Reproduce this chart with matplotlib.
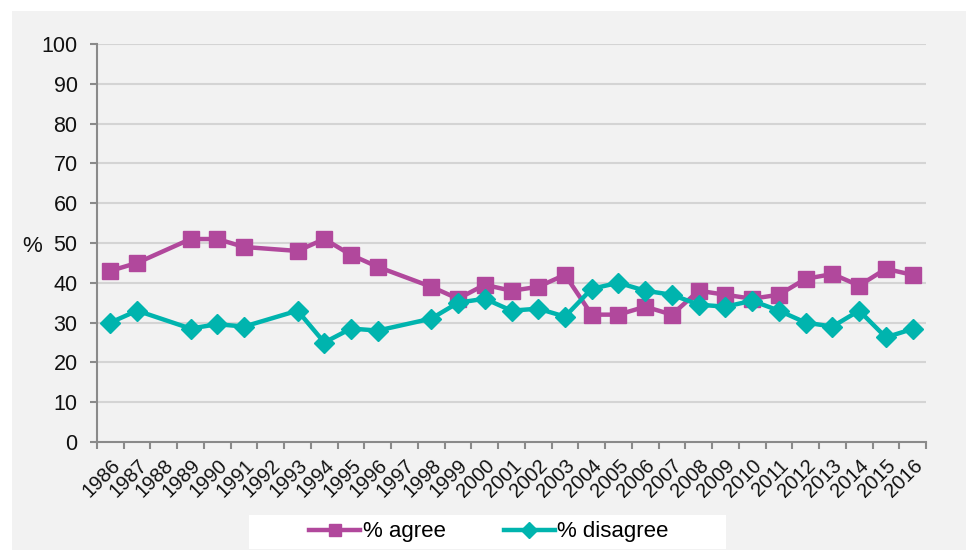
import numpy as np
import matplotlib.pyplot as plt
from matplotlib.patches import Rectangle

plt.rcParams['font.family'] = ['Liberation Sans', 'DejaVu Sans']

years = [str(y) for y in range(1986, 2017)]

# no survey in 1988, 1992, 1997
agree = [43, 45, None, 51, 51, 49, None, 48, 51, 47, 44, None, 39, 36, 39.5,
         38, 39, 42, 32, 32, 34, 32, 38, 37, 36, 37, 41, 42.2, 39.3, 43.5, 42]
disagree = [30, 33, None, 28.5, 29.6, 29, None, 33, 25, 28.5, 28, None, 31, 35, 36,
            33, 33.5, 31.5, 38.5, 40, 38, 37, 34.5, 34, 35.5, 33, 30, 29, 33, 26.3, 28.4]

agree_color = '#b1489c'
disagree_color = '#00b4ae'


def as_series(vals):
    x = np.arange(len(vals))
    v = np.array([np.nan if a is None else a for a in vals], dtype=float)
    keep = ~np.isnan(v)
    return x[keep], v[keep]


fig = plt.figure(figsize=(9.68, 5.51), dpi=100)
W, H = 968, 551

# light grey panel behind everything
fig.patches.append(Rectangle((12 / W, 1 - 550 / H), (966 - 12) / W, (550 - 11) / H,
                             transform=fig.transFigure, facecolor='#f2f2f2',
                             edgecolor='none', zorder=-10))

ax = fig.add_axes([97 / W, 1 - 442 / H, (926 - 97) / W, (442 - 44) / H])
ax.set_facecolor('none')

xa, va = as_series(agree)
xd, vd = as_series(disagree)
ax.plot(xa, va, color=agree_color, lw=3.2, marker='s', ms=11, label='% agree',
        clip_on=False, zorder=3)
ax.plot(xd, vd, color=disagree_color, lw=3.2, marker='D', ms=10.5, label='% disagree',
        clip_on=False, zorder=3)

ax.set_xlim(-0.5, len(years) - 0.5)
ax.set_ylim(0, 100)
ax.set_yticks(range(0, 101, 10))
ax.tick_params(axis='y', length=5, width=1.5, color='#8a8a8a', pad=9,
               labelsize=15.5, labelcolor='#111111')

# boundary ticks on the category axis, year labels centred between them
ax.set_xticks(np.arange(-0.5, len(years), 1.0))
ax.set_xticklabels([])
ax.tick_params(axis='x', which='major', length=5, width=1.5, color='#8a8a8a')
ax.set_xticks(np.arange(len(years)), minor=True)
ax.set_xticklabels(years, minor=True, rotation=45, ha='right', va='top',
                   rotation_mode='anchor', fontsize=14.5, color='#111111')
ax.tick_params(axis='x', which='minor', length=0, pad=10)

for v in range(10, 101, 10):
    ax.axhline(v, color='#d4d4d4', lw=1.5, zorder=1)

for side in ('top', 'right'):
    ax.spines[side].set_visible(False)
for side in ('left', 'bottom'):
    ax.spines[side].set_color('#8a8a8a')
    ax.spines[side].set_linewidth(1.5)

fig.text(32 / W, 1 - 246 / H, '%', fontsize=16, ha='center', va='center',
         color='#111111')

# legend on a white strip at the bottom
fig.patches.append(Rectangle((249 / W, 1 - 549 / H), (726 - 249) / W, (549 - 515) / H,
                             transform=fig.transFigure, facecolor='white',
                             edgecolor='none', zorder=1))
fig.legend(loc='center', bbox_to_anchor=(489 / W, 1 - 532 / H), ncol=2,
           frameon=False, fontsize=16, handlelength=2.3, handletextpad=0.12,
           columnspacing=2.6, markerscale=0.8)

fig.savefig('out.png', dpi=100)
